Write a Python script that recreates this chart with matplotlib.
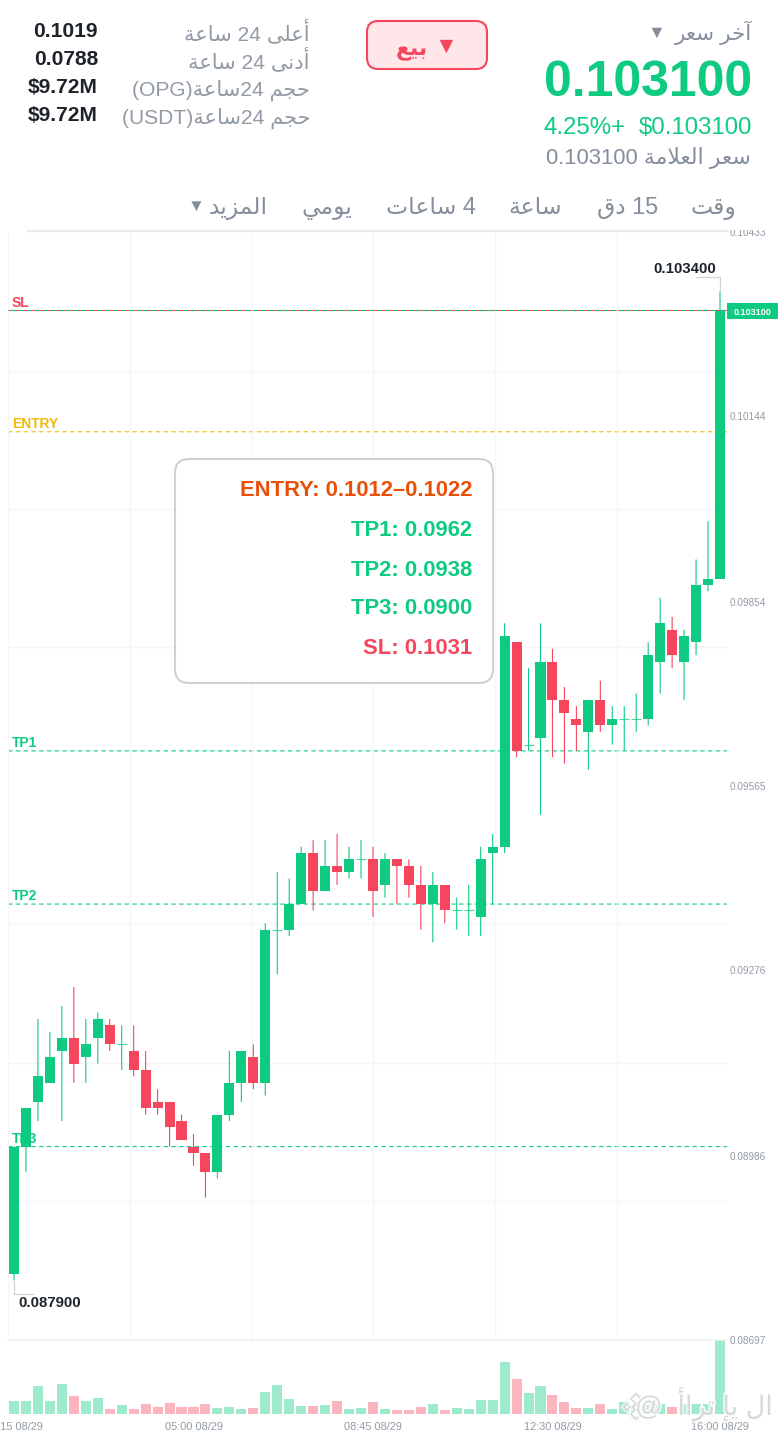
import re

import matplotlib
matplotlib.use("Agg")
import matplotlib.pyplot as plt
import numpy as np
from matplotlib.lines import Line2D
from matplotlib.patches import FancyBboxPatch, Polygon
from matplotlib.patheffects import withStroke
from matplotlib.transforms import Affine2D, Bbox

plt.rcParams["font.family"] = ["Liberation Sans", "DejaVu Sans"]

W, H = 780, 1432
GREEN = "#0ecb81"
RED = "#f6465d"
YELLOW = "#f0b90b"
GRAY = "#929aa5"
DARK = "#1e2329"

# 15 minute candles, prices
opens = [0.0880, 0.0900, 0.0907, 0.0910, 0.0915, 0.0917, 0.0914, 0.0917, 0.0919, 0.0916,
         0.0915, 0.0912, 0.0907, 0.0907, 0.0904, 0.0900, 0.0899, 0.0896, 0.0905, 0.0910,
         0.0914, 0.0910, 0.0934, 0.0934, 0.0938, 0.0946, 0.0940, 0.0944, 0.0943, 0.0945,
         0.0945, 0.0941, 0.0945, 0.0944, 0.0941, 0.0938, 0.0941, 0.0937, 0.0937, 0.0936,
         0.0946, 0.0947, 0.0979, 0.0963, 0.0964, 0.0976, 0.0970, 0.0967, 0.0965, 0.0970,
         0.0966, 0.0967, 0.0967, 0.0967, 0.0976, 0.0981, 0.0976, 0.0979, 0.0988, 0.0989]
closes = [0.0900, 0.0906, 0.0911, 0.0914, 0.0917, 0.0913, 0.0916, 0.0920, 0.0916, 0.0916,
          0.0912, 0.0906, 0.0906, 0.0903, 0.0901, 0.0899, 0.0896, 0.0905, 0.0910, 0.0915,
          0.0910, 0.0934, 0.0934, 0.0938, 0.0946, 0.0940, 0.0944, 0.0943, 0.0945, 0.0945,
          0.0940, 0.0945, 0.0944, 0.0941, 0.0938, 0.0941, 0.0937, 0.0937, 0.0937, 0.0945,
          0.0947, 0.0980, 0.0962, 0.0963, 0.0976, 0.0970, 0.0968, 0.0966, 0.0970, 0.0966,
          0.0967, 0.0967, 0.0967, 0.0977, 0.0982, 0.0977, 0.0980, 0.0988, 0.0989, 0.1031]
highs = [0.0900, 0.0906, 0.0920, 0.0918, 0.0922, 0.0925, 0.0920, 0.0921, 0.0920, 0.0919,
         0.0919, 0.0915, 0.0909, 0.0907, 0.0905, 0.0902, 0.0899, 0.0905, 0.0915, 0.0915,
         0.0916, 0.0935, 0.0943, 0.0942, 0.0947, 0.0948, 0.0948, 0.0949, 0.0947, 0.0948,
         0.0947, 0.0946, 0.0945, 0.0945, 0.0944, 0.0943, 0.0941, 0.0939, 0.0941, 0.0947,
         0.0949, 0.0982, 0.0979, 0.0975, 0.0982, 0.0978, 0.0972, 0.0969, 0.0970, 0.0973,
         0.0969, 0.0969, 0.0971, 0.0979, 0.0986, 0.0983, 0.0981, 0.0992, 0.0998, 0.1034]
lows = [0.0879, 0.0896, 0.0904, 0.0910, 0.0904, 0.0910, 0.0910, 0.0913, 0.0915, 0.0912,
        0.0911, 0.0905, 0.0905, 0.0900, 0.0901, 0.0897, 0.0892, 0.0895, 0.0904, 0.0907,
        0.0909, 0.0908, 0.0927, 0.0933, 0.0938, 0.0937, 0.0940, 0.0941, 0.0942, 0.0942,
        0.0936, 0.0939, 0.0938, 0.0939, 0.0934, 0.0932, 0.0935, 0.0934, 0.0933, 0.0933,
        0.0938, 0.0946, 0.0961, 0.0962, 0.0952, 0.0961, 0.0960, 0.0962, 0.0959, 0.0965,
        0.0963, 0.0962, 0.0965, 0.0966, 0.0971, 0.0975, 0.0970, 0.0977, 0.0987, 0.0989]
volumes = [39, 39, 83, 40, 91, 54, 38, 49, 14, 26, 15, 30, 21, 33, 21, 21, 30, 17, 21, 15,
           17, 66, 87, 45, 24, 24, 27, 40, 16, 18, 36, 15, 13, 11, 21, 31, 13, 17, 15, 41,
           41, 156, 104, 63, 84, 57, 36, 18, 19, 30, 16, 37, 27, 27, 29, 21, 29, 29, 29, 222]
price_ticks = [0.10433, 0.10144, 0.09854, 0.09565, 0.09276, 0.08986, 0.08697]
time_labels = ["01:15 08/29", "05:00 08/29", "08:45 08/29", "12:30 08/29", "16:00 08/29"]
time_pos = [0, 15, 30, 45, 59]
levels = [("SL", 0.1031, RED), ("ENTRY", 0.1012, YELLOW), ("TP1", 0.0962, GREEN),
          ("TP2", 0.0938, GREEN), ("TP3", 0.0900, GREEN)]
tabs = ["وقت", "15 دق", "ساعة", "4 ساعات", "يومي", "المزيد"]
tab_right = [736, 658, 562, 476, 352, 268]
stat_names = ["أعلى 24 ساعة", "أدنى 24 ساعة", "حجم 24ساعة(OPG)", "حجم 24ساعة(USDT)"]
stat_values = ["0.1019", "0.0788", "$9.72M", "$9.72M"]
box_lines = [("ENTRY: 0.1012–0.1022", "#e8500a"), ("TP1: 0.0962", GREEN), ("TP2: 0.0938", GREEN),
             ("TP3: 0.0900", GREEN), ("SL: 0.1031", RED)]

# matplotlib has no Arabic shaping, so pick presentation forms and lay the runs out by hand
FORMS = {"ب": 0xFE8F, "ت": 0xFE95, "ج": 0xFE9D, "ح": 0xFEA1, "خ": 0xFEA5, "س": 0xFEB1,
         "ع": 0xFEC9, "ق": 0xFED5, "ل": 0xFEDD, "م": 0xFEE1, "ن": 0xFEE5, "ي": 0xFEF1}
RIGHT_ONLY = {"آ": 0xFE81, "أ": 0xFE83, "إ": 0xFE87, "ا": 0xFE8D, "ة": 0xFE93, "د": 0xFEA9,
              "ر": 0xFEAD, "ز": 0xFEAF, "و": 0xFEED, "ى": 0xFEEF}


def shape_run(run):
    out = []
    i = 0
    while i < len(run):
        c = run[i]
        joins_prev = i > 0 and run[i - 1] in FORMS
        if c == "ل" and run[i + 1:i + 2] == "ا":
            out.append(chr(0xFEFC if joins_prev else 0xFEFB))
            i += 2
            continue
        joins_next = i + 1 < len(run) and (run[i + 1] in FORMS or run[i + 1] in RIGHT_ONLY)
        if c in FORMS:
            offset = {(False, False): 0, (True, False): 1, (False, True): 2, (True, True): 3}
            out.append(chr(FORMS[c] + offset[(joins_prev, joins_next)]))
        elif c in RIGHT_ONLY:
            out.append(chr(RIGHT_ONLY[c] + (1 if joins_prev else 0)))
        else:
            out.append(c)
        i += 1
    return "".join(reversed(out))


def ar(text):
    parts = re.findall(r"[\u0600-\u06FF ]+|[^\u0600-\u06FF ]+", text)
    return "".join(shape_run(p) if re.search(r"[\u0600-\u06FF]", p) else p for p in reversed(parts))


fig = plt.figure(figsize=(W / 100, H / 100), dpi=100, facecolor="white")
PX = Affine2D().scale(1, -1).translate(0, H)  # reference pixel coords, y down


def axes_px(x0, y0, x1, y1):
    return fig.add_axes([x0 / W, 1 - y1 / H, (x1 - x0) / W, (y1 - y0) / H])


def label(x, y, s, size, color, ha="left", weight="normal", va="baseline", **kw):
    return fig.text(x, y, s, transform=PX, fontsize=size * 0.72, color=color, ha=ha, va=va,
                    fontweight=weight, **kw)


def candle_colors():
    return [RED if c < o else GREEN for o, c in zip(opens, closes)]


# price pane
ax = axes_px(8, 232, 727, 1340)
idx = np.arange(len(opens))
step = 11.966
ax.set_xlim((8 - 14) / step, (727 - 14) / step)
ax.set_ylim(price_ticks[-1], price_ticks[0])
ax.patch.set_alpha(0)
for s in ax.spines.values():
    s.set_visible(False)

ax.set_xticks([(x - 14) / step for x in [8, 130, 252, 373, 495, 617]], minor=True)
ax.set_yticks(np.linspace(price_ticks[-1], price_ticks[0], 9), minor=True)
ax.grid(which="minor", color="#f5f6f7", lw=0.9)
ax.tick_params(which="minor", length=0)
ax.set_xticks([])
ax.yaxis.tick_right()
ax.set_yticks(price_ticks, [f"{p:.5f}" for p in price_ticks])
ax.tick_params(axis="y", which="major", length=0, pad=2.2, labelsize=7.2, labelcolor=GRAY)
ax.get_yticklabels()[0].set_clip_box(Bbox([[0, 0], [W, H - 230]]))
ax.get_yticklabels()[0].set_clip_on(True)

for name, price, col in levels:
    ax.axhline(price, color=col, lw=0.8, ls=(0, (4, 3)), zorder=1.5, snap=False)
    ax.text(-0.167, price + 0.00001, name, color=col, fontsize=10, fontweight="bold",
            va="bottom", ha="left", zorder=1.6)
# last price line runs over the SL line
ax.axhline(closes[-1], color=GREEN, lw=0.8, ls=(3.5, (4, 3)), zorder=1.7, snap=False)

colors = candle_colors()
ax.vlines(idx, lows, highs, colors=colors, lw=0.8, zorder=3).set_snap(False)
bottoms = np.minimum(opens, closes)
heights = np.abs(np.array(closes) - np.array(opens))
solid = heights > 0
ax.bar(idx[solid], heights[solid], bottom=bottoms[solid], width=0.84,
       color=[c for c, s in zip(colors, solid) if s], lw=0, zorder=4)
ax.hlines(bottoms[~solid], idx[~solid] - 0.42, idx[~solid] + 0.42,
          colors=[c for c, s in zip(colors, solid) if not s], lw=0.8, alpha=0.75, zorder=4)

# volume pane
vol = axes_px(8, 1340, 727, 1414)
vol.set_xlim(ax.get_xlim())
vol.set_ylim(0, max(volumes))
vol.patch.set_alpha(0)
for s in vol.spines.values():
    s.set_visible(False)
vol.bar(idx, volumes, width=0.84, color=colors, alpha=0.4, lw=0)
vol.set_yticks([])
vol.set_xticks(time_pos, time_labels)
vol.tick_params(axis="x", length=0, pad=5.5, labelsize=7.9, labelcolor=GRAY)

# frame line over the chart
fig.add_artist(Line2D([28, 727], [231, 231], transform=PX, color="#e9ebee", lw=1.6))
fig.add_artist(Line2D([8, 727], [1340, 1340], transform=PX, color="#f1f2f4", lw=1.2))

# high / low markers
fig.add_artist(Line2D([696, 720, 720], [277, 277, 290], transform=PX, color="#cfd2d6", lw=0.9))
label(716, 273, f"{highs[-1]:.6f}", 15, DARK, ha="right", weight="bold")
fig.add_artist(Line2D([14, 14, 33], [1282, 1294, 1294], transform=PX, color="#cfd2d6", lw=0.9))
label(18, 1307, f"{lows[0]:.6f}", 15, DARK, weight="bold")

# last price tag
fig.add_artist(FancyBboxPatch((727, 302.5), 51, 16, boxstyle="square,pad=0", transform=PX,
                              fc=GREEN, ec="none"))
label(752.5, 315, f"{closes[-1]:.6f}", 9, "white", ha="center", weight="bold")

# levels box
fig.add_artist(FancyBboxPatch((175, 459), 318, 224, boxstyle="round,pad=0,rounding_size=14",
                              transform=PX, fc="white", ec="#cdd1d7", lw=1.5, zorder=5))
for (s, col), y in zip(box_lines, [496, 536, 576, 614, 654]):
    label(472, y, s, 22, col, ha="right", weight="bold", zorder=6)

# header, right side
label(752, 40, ar("آخر سعر"), 21.5, "#848e9c", ha="right")
label(656, 33, "▼", 18, "#848e9c", ha="center", va="center")
label(752, 96, f"{closes[-1]:.6f}", 50, GREEN, ha="right", weight="bold")
label(752, 134, "$0.103100", 24, GREEN, ha="right")
label(625, 134, "4.25%+", 24, GREEN, ha="right")
label(751, 164, ar("سعر العلامة 0.103100"), 22, "#848e9c", ha="right")

# sell button
fig.add_artist(FancyBboxPatch((367, 21), 120, 48, boxstyle="round,pad=0,rounding_size=11",
                              transform=PX, fc="#fee6e9", ec=RED, lw=1.5))
label(446, 46, "▼", 23, RED, ha="center", va="center")
label(412, 55, ar("بيع"), 22, RED, ha="center", weight="bold")

# 24h stats
for s, v, y in zip(stat_names, stat_values, [40, 68, 96, 124]):
    label(310, y, ar(s), 21, GRAY, ha="right")
    label(98, y - 3, v, 21, DARK, ha="right", weight="bold")

# interval tabs
for s, x in zip(tabs, tab_right):
    label(x, 214, ar(s), 23.5, "#848e9c", ha="right")
label(196, 206, "▼", 17, "#848e9c", ha="center", va="center")

# watermark
halo = [withStroke(linewidth=2.5, foreground="white", alpha=0.8)]
label(773, 1415, ar("ال يإ تراأ  @"), 27, "#c9cdd2", ha="right", alpha=0.7, path_effects=halo, zorder=8)
fig.add_artist(Polygon([(620, 1407), (636, 1392), (652, 1407), (636, 1421)], transform=PX,
                       fc="white", ec="#e4e6e9", lw=0.8, alpha=0.6, zorder=8))
for cx, cy, r in [(636, 1399, 5), (636, 1414, 5), (627, 1407, 3), (645, 1407, 3), (636, 1407, 3)]:
    fig.add_artist(Polygon([(cx - r, cy), (cx, cy - r), (cx + r, cy), (cx, cy + r)], transform=PX,
                           fc="white", ec="#c9cdd2", lw=0.9, alpha=0.9, zorder=8))

fig.savefig("out.png", dpi=100, facecolor="white")
